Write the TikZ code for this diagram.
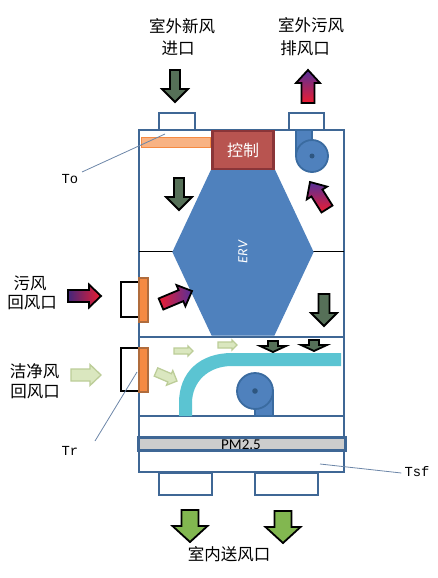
\documentclass[tikz,border=0pt]{standalone}
\usepackage{fontspec}
\setmainfont{Liberation Serif}
\newfontfamily\cjk{Noto Sans CJK SC}
\newfontfamily\carl{Carlito}
\newfontfamily\monof{Liberation Mono}
\usetikzlibrary{calc}
\definecolor{frame}{HTML}{3F6795}
\definecolor{bluef}{HTML}{4F81BD}
\definecolor{blued}{HTML}{3A6BA0}
\definecolor{orangef}{HTML}{F58A42}
\definecolor{oranged}{HTML}{B06C3C}
\definecolor{ctrlf}{HTML}{B85450}
\definecolor{ctrld}{HTML}{8A3538}
\definecolor{ductc}{HTML}{5BC4D2}
\definecolor{pmgray}{HTML}{CDCDCD}
\definecolor{dkgreen}{HTML}{567058}
\definecolor{brgreen}{HTML}{82B750}
\definecolor{ltgreen}{HTML}{DAE7BF}
\definecolor{ltgreend}{HTML}{BCCD98}
\definecolor{gpurple}{HTML}{53309A}
\definecolor{gred}{HTML}{EE1C30}
\definecolor{leader}{HTML}{6C86A8}
% \blockarrow{tail}{tip}{shaft width}{head width}{head length}{style}
\newcommand{\blockarrow}[6]{%
  \path let \p1=($(#2)-(#1)$), \n1={atan2(\y1,\x1)}, \n2={veclen(\x1,\y1)} in
    [shift={(#1)},rotate=\n1,#6,line join=miter]
    (0pt,-#3/2) -- (\n2-#5,-#3/2) -- (\n2-#5,-#4/2) -- (\n2,0pt)
    -- (\n2-#5,#4/2) -- (\n2-#5,#3/2) -- (0pt,#3/2) -- cycle;}
\tikzset{
  x=1pt,y=-1pt,
  frameline/.style={draw=frame,line width=2.7pt},
  port/.style={draw=frame,line width=2.3pt,fill=white},
  blackport/.style={draw=black,line width=1.8pt,fill=white},
  filterbar/.style={draw=oranged,line width=1.6pt,fill=orangef},
  fanshape/.style={draw=blued,line width=1.8pt,fill=bluef},
  label/.style={font=\cjk\fontsize{16.5}{18}\selectfont,inner sep=0pt},
  tag/.style={font=\monof\fontsize{13.8}{15}\selectfont,inner sep=0pt},
  leaderline/.style={draw=leader,line width=0.8pt},
  darkarrow/.style={draw=black,line width=1.8pt,fill=dkgreen},
  brightarrow/.style={draw=black,line width=1.8pt,fill=brgreen},
  paleblock/.style={draw=ltgreend,line width=1.3pt,fill=ltgreen},
}
\begin{document}
\begin{tikzpicture}
\useasboundingbox (0,0) rectangle (438,578);
% ports
\draw[port] (159,113) rectangle (195,130);
\draw[port] (289,113) rectangle (324,130);
\draw[port] (159,473) rectangle (212,495);
\draw[port] (255,473) rectangle (318,495);
\draw[blackport] (121,282) rectangle (139,317);
\draw[blackport] (121,348) rectangle (139,391);
% main frame
\draw[frameline,fill=white] (139,130) rectangle (344,472);
% inner lines
\draw[black,line width=0.9pt] (139,251) -- (173,251);
\draw[black,line width=0.9pt] (313,251) -- (344,251);
\draw[draw=frame,line width=2.3pt] (139,337) -- (344,337);
\draw[draw=frame,line width=2.3pt] (139,416) -- (344,416);
% ERV hexagon
\node[coordinate] (ervc) at (243,252) {};
\draw[draw=bluef,line width=1.2pt,fill=bluef] (212,169) -- (274,169) -- (313,252) -- (274,335) -- (212,335) -- (173,252) -- cycle;
\node[font=\carl\itshape\fontsize{14}{15}\selectfont,text=white,rotate=90,inner sep=0pt] (erv) at (ervc) {ERV};
% control
\node[draw=ctrld,line width=2.4pt,fill=ctrlf,minimum width=61pt,minimum height=38pt,inner sep=0pt,text=white,font=\cjk\fontsize{16}{18}\selectfont] (ctrl) at (243,150) {控制};
% orange bar
\draw[draw=orangef,line width=1pt,fill=orangef!65!white] (141,137.5) rectangle (210,147.5);
% top fan
\draw[fanshape] (296,130) -- (312,130) -- (312,156) -- (296,156) -- cycle;
\draw[fanshape] (312,156) circle[radius=16];
\fill[blued!80!black] (312,156) circle[radius=2.5];
% duct
\fill[ductc] (179,416) -- (179,403) .. controls (179,372) and (200,353) .. (232,353) -- (341,353) -- (341,366) -- (232,366) .. controls (208,366) and (192,382) .. (192,403) -- (192,416) -- cycle;
% bottom fan
\draw[fanshape] (255,391) -- (273,391) -- (273,416) -- (255,416) -- cycle;
\draw[fanshape] (255,391) circle[radius=18];
\fill[blued!80!black] (255,391) circle[radius=2.8];
% filters
\draw[filterbar] (139,278) rectangle (148,322);
\draw[filterbar] (139,348) rectangle (148,392);
% PM2.5
\node[draw=frame,line width=2.3pt,fill=pmgray,minimum width=207pt,minimum height=13pt,inner sep=0pt] (pm) at (242,444) {};
\node[font=\carl\fontsize{15}{16}\selectfont,inner sep=0pt] (pmtext) at (241,444.5) {PM2.5};
% arrows
\coordinate (a1) at (175,70);\coordinate (b1) at (175,102);
\blockarrow{a1}{b1}{10pt}{26pt}{13pt}{darkarrow}
\coordinate (a2) at (179,178);\coordinate (b2) at (179,210);
\blockarrow{a2}{b2}{10pt}{26pt}{13pt}{darkarrow}
\coordinate (a3) at (324,294);\coordinate (b3) at (324,326);
\blockarrow{a3}{b3}{11pt}{26pt}{13pt}{darkarrow}
\coordinate (a4) at (273,341);\coordinate (b4) at (273,352);
\blockarrow{a4}{b4}{10pt}{26pt}{6pt}{darkarrow}
\coordinate (a5) at (314,340);\coordinate (b5) at (314,351);
\blockarrow{a5}{b5}{10pt}{26pt}{6pt}{darkarrow}
\coordinate (a6) at (308,103);\coordinate (b6) at (308,70);
\blockarrow{a6}{b6}{13pt}{24pt}{13pt}{draw=black,line width=1.8pt,top color=gpurple,bottom color=gred}
\coordinate (a7) at (327,209);\coordinate (b7) at (310,182);
\blockarrow{a7}{b7}{13pt}{24pt}{13pt}{draw=black,line width=1.8pt,top color=gpurple,bottom color=gred}
\coordinate (a8) at (68,296);\coordinate (b8) at (101,296);
\blockarrow{a8}{b8}{12pt}{23pt}{12pt}{draw=black,line width=1.8pt,left color=gpurple!80!black,right color=gred}
\coordinate (a9) at (161,304);\coordinate (b9) at (192,291);
\blockarrow{a9}{b9}{12pt}{23pt}{12pt}{draw=black,line width=1.8pt,left color=gred,right color=gpurple}
\coordinate (a10) at (71,375);\coordinate (b10) at (101,375);
\blockarrow{a10}{b10}{12pt}{21pt}{11pt}{paleblock}
\coordinate (a11) at (156,372);\coordinate (b11) at (177,381);
\blockarrow{a11}{b11}{9pt}{16pt}{8pt}{paleblock}
\coordinate (a12) at (174,351);\coordinate (b12) at (193,351);
\blockarrow{a12}{b12}{6pt}{10pt}{5pt}{paleblock}
\coordinate (a13) at (218,345);\coordinate (b13) at (237,345);
\blockarrow{a13}{b13}{6pt}{10pt}{5pt}{paleblock}
\coordinate (a14) at (190,510);\coordinate (b14) at (190,542);
\blockarrow{a14}{b14}{17pt}{35pt}{16pt}{brightarrow}
\coordinate (a15) at (283,511);\coordinate (b15) at (283,543);
\blockarrow{a15}{b15}{17pt}{35pt}{16pt}{brightarrow}
% labels
\node[label] (l1) at (182,26) {室外新风};
\node[label] (l2) at (178,48) {进口};
\node[label] (l3) at (311,25) {室外污风};
\node[label] (l4) at (305,48) {排风口};
\node[label] (l5) at (30,283) {污风};
\node[label] (l6) at (32,303) {回风口};
\node[label] (l7) at (34.5,371) {洁净风};
\node[label] (l8) at (35,392) {回风口};
\node[label] (l9) at (229,554) {室内送风口};
% tags and leaders
\node[tag] (to) at (70,179) {To};
\node[tag] (tr) at (70,451) {Tr};
\node[tag] (tsf) at (417,472) {Tsf};
\coordinate (toend) at (165,134);
\coordinate (toroot) at (82,172);
\coordinate (trend) at (137,372);
\coordinate (trroot) at (95,441);
\coordinate (tsfend) at (320,464);
\draw[leaderline] (toroot) -- (toend);
\draw[leaderline] (trroot) -- (trend);
\draw[leaderline] (tsf.west) ++(-3pt,-1pt) -- (tsfend);
\end{tikzpicture}
\end{document}
